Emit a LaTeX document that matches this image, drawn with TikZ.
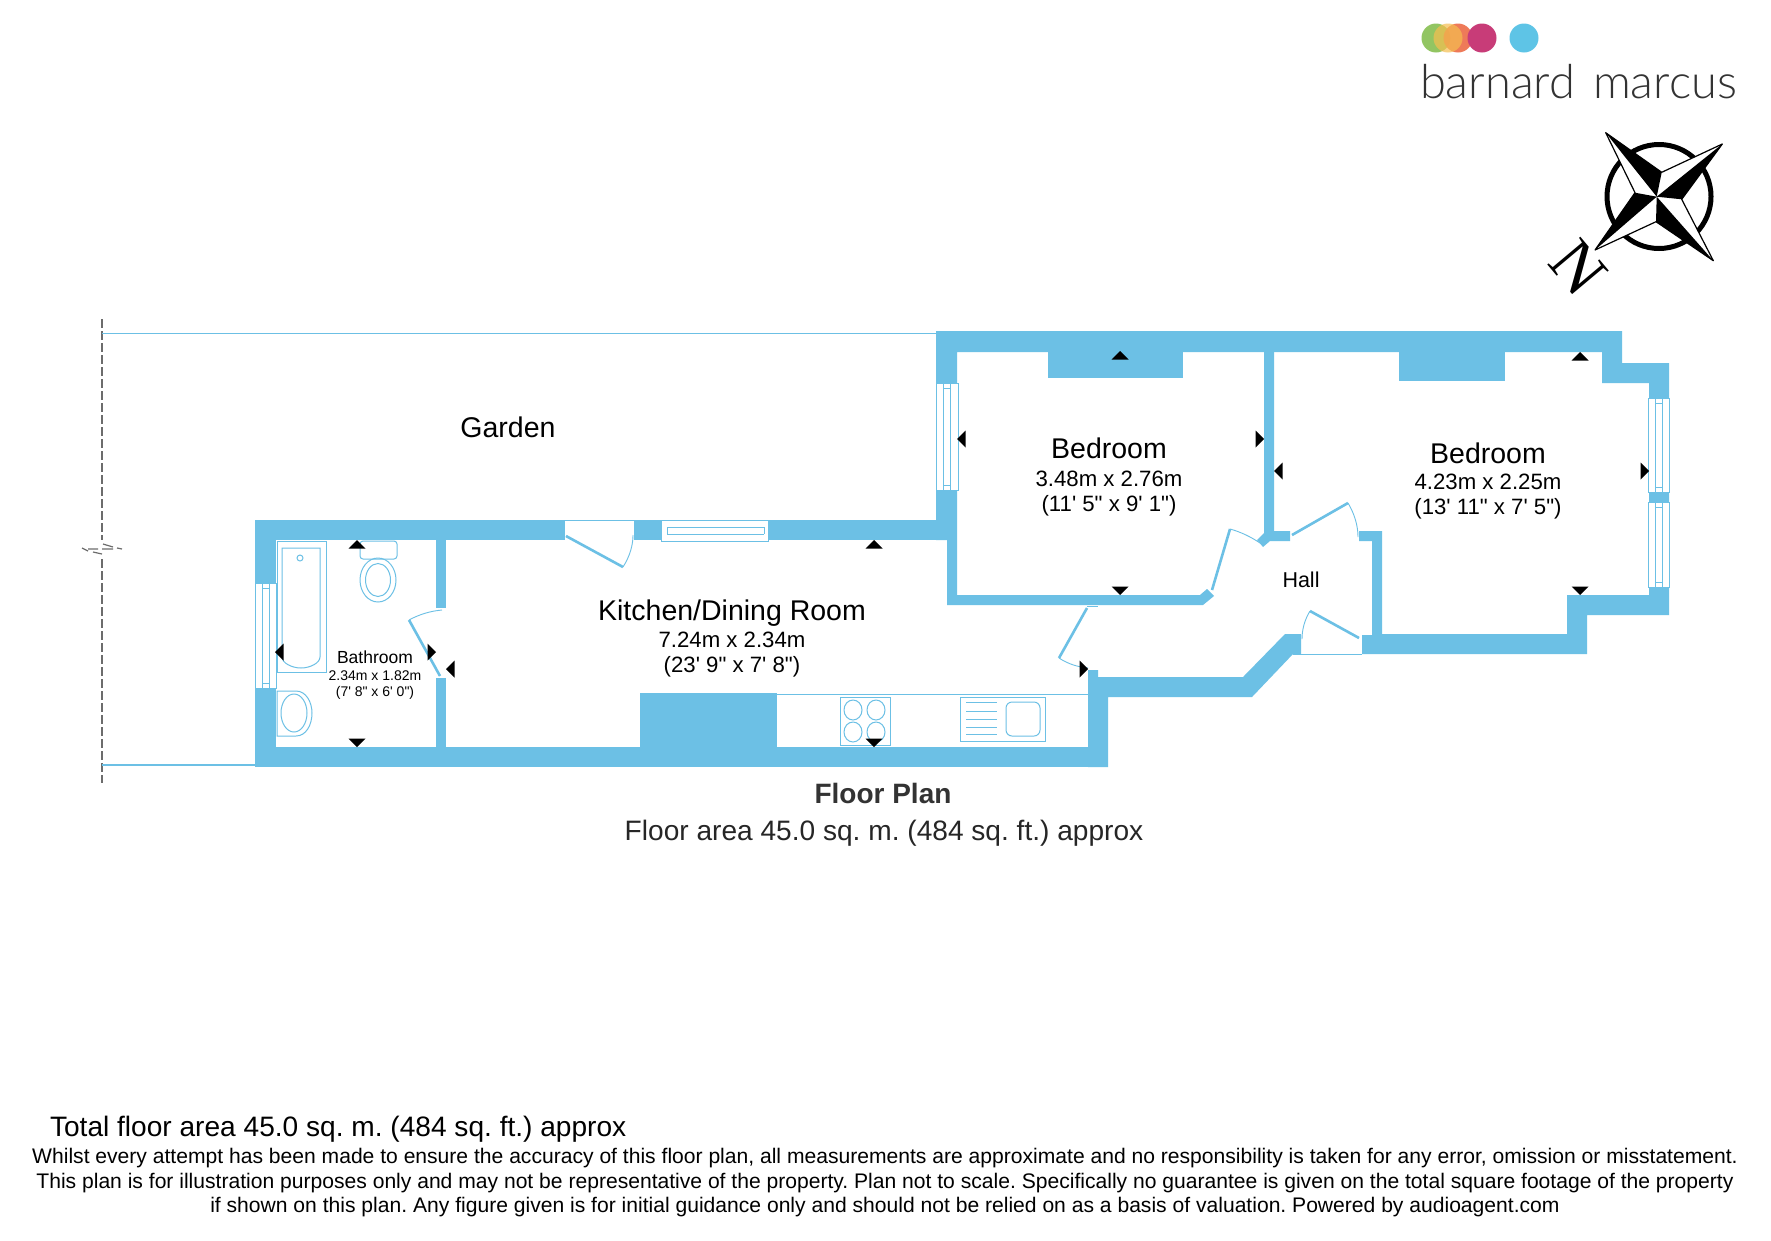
\documentclass[tikz,border=0pt]{standalone}
\usepackage{fontspec}
\setmainfont{Liberation Sans}[Ligatures=TeXOff]
\newfontfamily\serifN{Liberation Serif}
\newfontfamily\logofont{Lato Light}
\definecolor{wall}{HTML}{6CC0E5}
\tikzset{
  x=1pt,y=-1pt,
  wallfill/.style={fill=wall,draw=none},
  thin line/.style={draw=wall,line width=1pt},
  leaf/.style={draw=wall,line width=2.6pt},
  swing/.style={draw=wall,line width=0.9pt},
  winbox/.style={draw=wall,fill=white,line width=1pt},
  mark tri/.style={fill=black,draw=none},
  lbl/.style={anchor=base,inner sep=0,outer sep=0,text=black},
}
\newcommand{\tup}[2]{\fill[mark tri] (#1,#2) -- (#1-8.5,#2+8.5) -- (#1+8.5,#2+8.5) -- cycle;}
\newcommand{\tdown}[2]{\fill[mark tri] (#1,#2) -- (#1-8.5,#2-8.5) -- (#1+8.5,#2-8.5) -- cycle;}
\newcommand{\tleft}[2]{\fill[mark tri] (#1,#2) -- (#1+8.5,#2-8.5) -- (#1+8.5,#2+8.5) -- cycle;}
\newcommand{\tright}[2]{\fill[mark tri] (#1,#2) -- (#1-8.5,#2-8.5) -- (#1-8.5,#2+8.5) -- cycle;}
\newcommand{\vwin}[4]{% x1 x2 y1 y2
  \draw[winbox] (#1,#3) rectangle (#2,#4);
  \draw[thin line] ({#1+7},#3) -- ({#1+7},#4) ({#1+14},#3) -- ({#1+14},#4)
     ({#1+7},{#3+5}) -- ({#1+14},{#3+5}) ({#1+7},{#4-5}) -- ({#1+14},{#4-5});}
\frenchspacing
\begin{document}
\begin{tikzpicture}
\useasboundingbox (0,0) rectangle (1771,1240);
\fill[white] (0,0) rectangle (1771,1240);
% garden
\draw[gray!85!black,line width=1.3pt,dash pattern=on 9pt off 3pt] (102,319) -- (102,540) (102,559) -- (102,783);
\draw[gray!85!black,line width=1.2pt] (82,548) -- (88,551) (88,549) -- (98,549) (93,552) -- (102,554) (103,544) -- (113,547) (102,549) -- (113,549) (117,548) -- (122,549);
\draw[thin line,line width=1.3pt] (102,333.5) -- (936,333.5) (102,765) -- (255,765);
% walls
\fill[wallfill] (255,520) rectangle (947,540);
\fill[wallfill] (255,520) rectangle (276,767);
\fill[wallfill] (255,747) rectangle (1108,767);
\fill[wallfill] (436,540) rectangle (446,608);
\fill[wallfill] (436,678) rectangle (446,747);
\fill[wallfill] (640,693) rectangle (777,747);
\fill[wallfill] (1088,670) -- (1098,670) -- (1098,677) -- (1243,677) -- (1285,634) -- (1301,634) -- (1301,654) -- (1293,654) -- (1252,697) -- (1108,697) -- (1108,767) -- (1088,767) -- cycle;
\fill[wallfill] (936,331) -- (1622,331) -- (1622,363) -- (1669,363) -- (1669,615) -- (1587,615) -- (1587,654) -- (1362,654) -- (1362,635) -- (1372,635) -- (1372,541) -- (1359,541) -- (1359,531) -- (1382,531) -- (1382,634) -- (1567,634) -- (1567,595) -- (1649,595) -- (1649,383) -- (1602,383) -- (1602,352) -- (957,352) -- (957,595) -- (1200,595) -- (1207,589) -- (1214,596) -- (1203,605) -- (947,605) -- (947,540) -- (936,540) -- cycle;
\fill[wallfill] (1264,352) -- (1274,352) -- (1274,531) -- (1290,531) -- (1290,541) -- (1270,541) -- (1263,547) -- (1257,540) -- (1264,533) -- cycle;
\fill[wallfill] (1048,352) rectangle (1183,378);
\fill[wallfill] (1399,352) rectangle (1505,381);
% kitchen garden door gap
\fill[white] (564,519.5) rectangle (634,540.5);
\draw[thin line] (564,520) -- (634,520) (564,520) -- (564,540) (634,520) -- (634,540);
\draw[leaf] (566,536) -- (623,567);
\draw[swing] (623,567) .. controls (630,556) and (633,545) .. (633,535);
% windows
\draw[winbox] (661,520) rectangle (768,541);
\draw[thin line] (667,527) -- (764,527) (667,534) -- (764,534) (667,527) -- (667,534) (764,527) -- (764,534);
\vwin{255}{276}{583}{688}
\vwin{936}{958}{383}{490}
\vwin{1648}{1669}{398}{492}
\vwin{1648}{1669}{502}{587}
% bathroom door
\draw[leaf] (440,676) -- (409,620);
\draw[swing] (409,620) .. controls (420,614) and (431,611) .. (442,610);
% kitchen-hall door
\draw[thin line] (1087,606.5) -- (1098,606.5);
\draw[leaf] (1087,608) -- (1059,658);
\draw[swing] (1059,658) .. controls (1068,664) and (1078,667) .. (1088,668);
% bedroom 1 door
\draw[leaf] (1212,590) -- (1230,529);
\draw[swing] (1230,529) .. controls (1241,532) and (1251,537) .. (1260,543);
% bedroom 2 door
\draw[leaf] (1292,535) -- (1348,503);
\draw[swing] (1348,503) .. controls (1354,513) and (1358,525) .. (1358,537);
% front door
\draw[thin line] (1293,654) -- (1362,654);
\draw[leaf] (1359,638) -- (1310,611);
\draw[swing] (1310,611) .. controls (1305,619) and (1302,629) .. (1302,639);
% bath
\draw[thin line] (277,541) rectangle (326,672);
\draw[thin line] (282,548) -- (320,548) -- (320,657) .. controls (320,663) and (310,668) .. (301,668) .. controls (292,668) and (282,663) .. (282,657) -- cycle;
\draw[thin line] (300,558) circle (3);
% wc top
\draw[thin line,rounded corners=3pt] (360,541) rectangle (397,559);
\draw[thin line] (378,580) ellipse (18 and 22);
\draw[thin line] (378,580) ellipse (12.5 and 16.5);
% wc lower
\draw[thin line] (277,691) -- (296,691) .. controls (306,691) and (312,702) .. (312,713) .. controls (312,725) and (306,736) .. (296,736) -- (277,736) -- cycle;
\draw[thin line] (294,713) ellipse (13 and 19);
% worktop, hob, sink
\draw[thin line] (777,694) -- (1088,694);
\draw[thin line] (840,697) rectangle (890,745);
\foreach \cx/\cy/\cn in {853/710/a,876/710/b,853/732/c,876/732/d}{\draw[thin line] (\cx,\cy) ellipse (9 and 10);}
\draw[thin line] (960,697) rectangle (1045,741);
\foreach \ly in {702,711,719,727,734}{\draw[thin line] (966,\ly) -- (997,\ly);}
\draw[thin line,rounded corners=6pt] (1006,702) rectangle (1040,736);
% direction marks
\tup{357}{540}\tdown{357}{747}\tleft{275}{652}\tright{436}{652}
\tleft{446}{669}\tright{1088}{669}\tup{874}{540}\tdown{874}{747}
\tup{1120}{351}\tdown{1120}{595}\tleft{957}{439}\tright{1264}{439}
\tup{1580}{352}\tdown{1580}{595}\tleft{1274}{471}\tright{1649}{471}
% texts
\node[lbl,font=\fontsize{28.5}{28.5}\selectfont] (garden) at (508,437) {Garden};
\node[lbl,font=\fontsize{28.5}{28.5}\selectfont] (bed1) at (1109,458) {Bedroom};
\node[lbl,font=\fontsize{22.2}{22.2}\selectfont] (bed1a) at (1109,486) {3.48m x 2.76m};
\node[lbl,font=\fontsize{22.2}{22.2}\selectfont] (bed1b) at (1109,511) {(11' 5" x 9' 1")};
\node[lbl,font=\fontsize{28.5}{28.5}\selectfont] (bed2) at (1488,463) {Bedroom};
\node[lbl,font=\fontsize{22.2}{22.2}\selectfont] (bed2a) at (1488,489) {4.23m x 2.25m};
\node[lbl,font=\fontsize{22.2}{22.2}\selectfont] (bed2b) at (1488,514) {(13' 11" x 7' 5")};
\node[lbl,font=\fontsize{28.5}{28.5}\selectfont] (kit) at (732,620) {Kitchen/Dining Room};
\node[lbl,font=\fontsize{22.2}{22.2}\selectfont] (kita) at (732,647) {7.24m x 2.34m};
\node[lbl,font=\fontsize{22.2}{22.2}\selectfont] (kitb) at (732,672) {(23' 9" x 7' 8")};
\node[lbl,font=\fontsize{17.5}{17.5}\selectfont] (bath) at (375,663) {Bathroom};
\node[lbl,font=\fontsize{14}{14}\selectfont] (batha) at (375,680) {2.34m x 1.82m};
\node[lbl,font=\fontsize{14}{14}\selectfont] (bathb) at (375,696) {(7' 8" x 6' 0")};
\node[lbl,font=\fontsize{21.5}{21.5}\selectfont] (hall) at (1301,587) {Hall};
\node[lbl,text=black!80,font=\bfseries\fontsize{28}{28}\selectfont] (fp) at (883,803) {Floor Plan};
\node[lbl,font=\fontsize{28.1}{28.1}\selectfont,text=black!85] (fa) at (884,840) {Floor area 45.0 sq. m. (484 sq. ft.) approx};
\node[lbl,anchor=base west,font=\fontsize{28.1}{28.1}\selectfont] (tot) at (50,1136) {Total floor area 45.0 sq. m. (484 sq. ft.) approx};
\node[lbl,font=\fontsize{21.09}{21.09}\selectfont] (d1) at (885,1163) {Whilst every attempt has been made to ensure the accuracy of this floor plan, all measurements are approximate and no responsibility is taken for any error, omission or misstatement.};
\node[lbl,font=\fontsize{21.09}{21.09}\selectfont] (d2) at (885,1188) {This plan is for illustration purposes only and may not be representative of the property. Plan not to scale. Specifically no guarantee is given on the total square footage of the property};
\node[lbl,font=\fontsize{21.09}{21.09}\selectfont] (d3) at (885,1212) {if shown on this plan. Any figure given is for initial guidance only and should not be relied on as a basis of valuation. Powered by audioagent.com};
% logo
\fill[fill={rgb,255:red,146;green,197;blue,98}] (1436,38) circle (14.5);
\fill[fill={rgb,255:red,237;green,108;blue,72},fill opacity=.9] (1458,38) circle (14.5);
\fill[fill={rgb,255:red,245;green,190;blue,80},fill opacity=.7] (1448,38) circle (14.5);
\fill[fill={rgb,255:red,200;green,60;blue,120}] (1482,38) circle (14.5);
\fill[fill={rgb,255:red,94;green,196;blue,230}] (1524,38) circle (14.5);
\node[lbl,anchor=base west,text=black!80,font=\logofont\fontsize{47}{47}\selectfont] (logo) at (1420,98) {barnard\hspace{18pt}marcus};
% compass
\draw[black,line width=5pt] (1659,196.5) circle (52);
\fill[white,draw=black,line width=1.2pt,line join=round] (1605.7,132.7) -- (1661.7,172.3) -- (1722.3,144) -- (1681.7,199.3) -- (1713.3,260.7) -- (1656,221.7) -- (1595,250) -- (1635,192.7) -- cycle;
\fill[black] (1605.7,132.7) -- (1661.7,172.3) -- (1656.7,196.7) -- cycle;
\fill[black] (1722.3,144) -- (1681.7,199.3) -- (1656.7,196.7) -- cycle;
\fill[black] (1713.3,260.7) -- (1656,221.7) -- (1656.7,196.7) -- cycle;
\fill[black] (1595,250) -- (1635,192.7) -- (1656.7,196.7) -- cycle;
\node[inner sep=0,rotate=-50,font=\serifN\fontsize{66}{66}\selectfont] (north) at (1578,268) {N};
\end{tikzpicture}
\end{document}
